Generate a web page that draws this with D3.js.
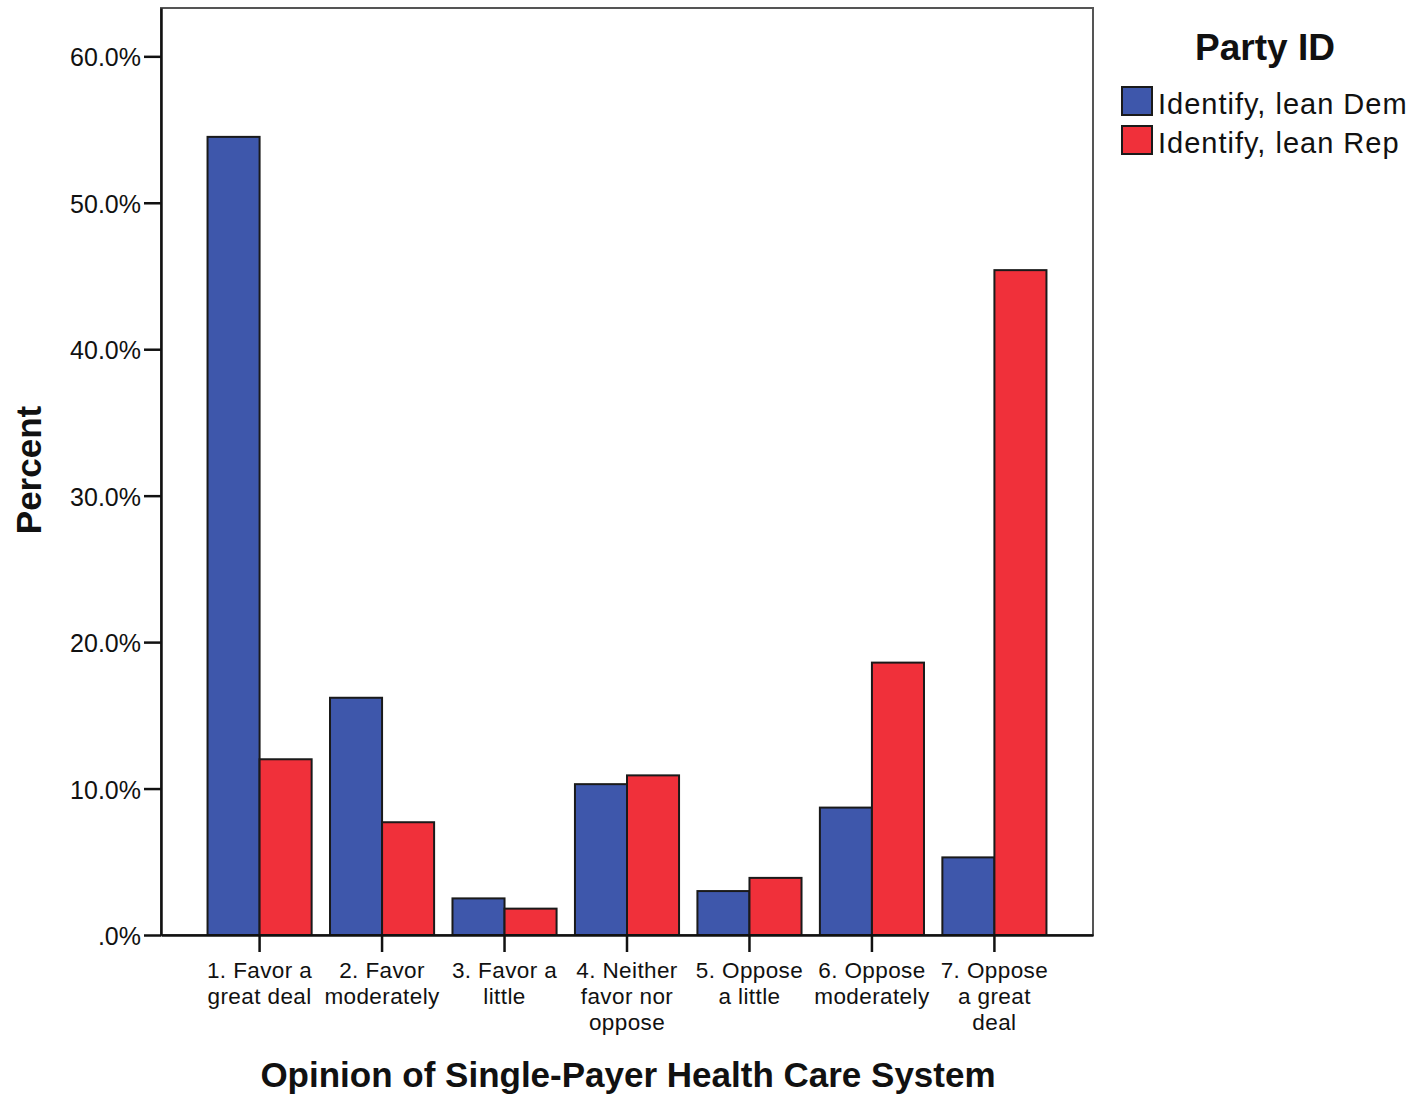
<!DOCTYPE html>
<html>
<head>
<meta charset="utf-8">
<script src="https://cdn.jsdelivr.net/npm/d3@7"></script>
<style>
  body { margin: 0; background: #fff; }
  text { font-family: "Liberation Sans", Arial, sans-serif; fill: #111; }
</style>
</head>
<body>
<svg id="chart" width="1414" height="1095"></svg>
<script>
const categories = [
  ["1. Favor a", "great deal"],
  ["2. Favor", "moderately"],
  ["3. Favor a", "little"],
  ["4. Neither", "favor nor", "oppose"],
  ["5. Oppose", "a little"],
  ["6. Oppose", "moderately"],
  ["7. Oppose", "a great", "deal"]
];
const seriesNames = ["Identify, lean Dem", "Identify, lean Rep"];
const seriesColors = ["#3e57ab", "#f0303a"];
const demValues = [54.5, 16.2, 2.5, 10.3, 3.0, 8.7, 5.3];
const repValues = [12.0, 7.7, 1.8, 10.9, 3.9, 18.6, 45.4];
const yTicks = [0, 10, 20, 30, 40, 50, 60];

const svg = d3.select("#chart");
const plotLeft = 161, plotRight = 1093, plotTop = 8, plotBottom = 935;

const x = d3.scaleBand()
  .domain(d3.range(categories.length))
  .range([plotLeft, plotRight])
  .paddingInner(0.15)
  .paddingOuter(0.38);

const xSub = d3.scaleBand()
  .domain([0, 1])
  .range([0, x.bandwidth()]);

const y = d3.scaleLinear().domain([0, 63.3]).range([plotBottom, plotTop]);

// frame
svg.append("rect")
  .attr("x", plotLeft).attr("y", plotTop)
  .attr("width", plotRight - plotLeft).attr("height", plotBottom - plotTop)
  .attr("fill", "none").attr("stroke", "#555").attr("stroke-width", 2);

// bars
const rows = categories.map((c, i) => [demValues[i], repValues[i]]);
const groups = svg.append("g").selectAll("g")
  .data(rows)
  .join("g")
  .attr("transform", (d, i) => `translate(${x(i)},0)`);

groups.selectAll("rect")
  .data(d => d)
  .join("rect")
  .attr("x", (d, j) => xSub(j))
  .attr("y", d => y(d))
  .attr("width", xSub.bandwidth())
  .attr("height", d => y(0) - y(d))
  .attr("fill", (d, j) => seriesColors[j])
  .attr("stroke", "#1a1a1a")
  .attr("stroke-width", 2);

// y axis
const yAxis = svg.append("g")
  .attr("transform", `translate(${plotLeft},0)`)
  .call(d3.axisLeft(y).tickValues(yTicks).tickSize(17).tickSizeOuter(0).tickPadding(3)
    .tickFormat(d => d === 0 ? ".0%" : d.toFixed(1) + "%"));
yAxis.select(".domain").attr("stroke", "#111").attr("stroke-width", 2.5);
yAxis.selectAll(".tick line").attr("stroke", "#111").attr("stroke-width", 2.5);
yAxis.selectAll(".tick text").attr("font-size", 25).attr("fill", "#111")
  .attr("dy", "0.38em")
  .style("font-family", "'Liberation Sans', Arial, sans-serif");

// x axis
const xAxis = svg.append("g")
  .attr("transform", `translate(0,${plotBottom})`)
  .call(d3.axisBottom(x).tickSize(17).tickSizeOuter(0).tickFormat(""));
xAxis.select(".domain").attr("stroke", "#111").attr("stroke-width", 2.5);
xAxis.selectAll(".tick line").attr("stroke", "#111").attr("stroke-width", 2.5);

const labels = svg.append("g").selectAll("text")
  .data(categories)
  .join("text")
  .attr("text-anchor", "middle")
  .attr("font-size", 22.5)
  .attr("letter-spacing", 0.4)
  .attr("transform", (d, i) => `translate(${x(i) + x.bandwidth() / 2},978)`);
labels.selectAll("tspan")
  .data(d => d)
  .join("tspan")
  .attr("x", 0)
  .attr("y", (d, k) => k * 26)
  .text(d => d);

// axis titles
svg.append("text")
  .attr("x", 628).attr("y", 1087)
  .attr("text-anchor", "middle")
  .attr("font-size", 35).attr("font-weight", "bold")
  .text("Opinion of Single-Payer Health Care System");

svg.append("text")
  .attr("transform", "translate(41,470) rotate(-90)")
  .attr("text-anchor", "middle")
  .attr("font-size", 35).attr("font-weight", "bold")
  .text("Percent");

// legend
svg.append("text")
  .attr("x", 1265).attr("y", 60)
  .attr("text-anchor", "middle")
  .attr("font-size", 37).attr("font-weight", "bold")
  .text("Party ID");

const legend = svg.append("g").selectAll("g")
  .data(seriesNames)
  .join("g")
  .attr("transform", (d, i) => `translate(1122,${87 + i * 39})`);
legend.append("rect")
  .attr("width", 30).attr("height", 28)
  .attr("fill", (d, i) => seriesColors[i])
  .attr("stroke", "#1a1a1a").attr("stroke-width", 2);
legend.append("text")
  .attr("x", 36).attr("y", 27)
  .attr("font-size", 29)
  .attr("letter-spacing", 1.0)
  .text(d => d);
</script>
</body>
</html>
